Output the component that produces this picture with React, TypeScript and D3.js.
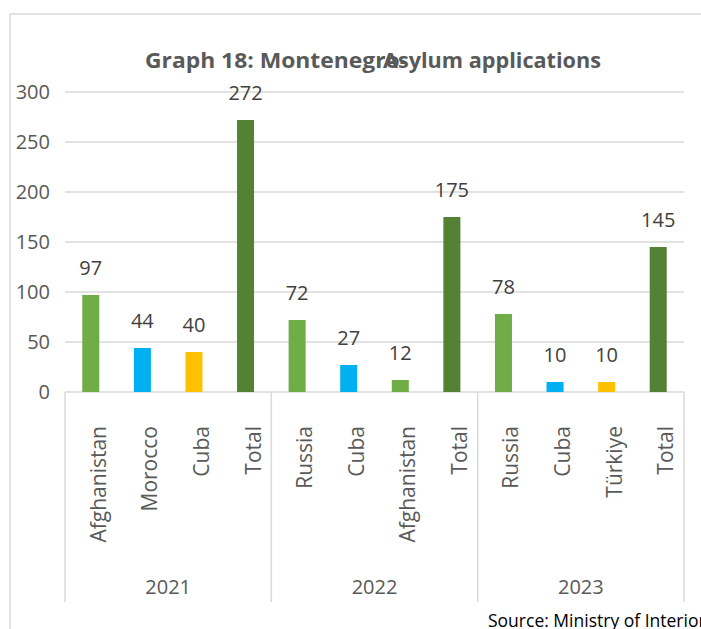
import React from "react";
import * as d3 from "d3";

const years = ["2021", "2022", "2023"];
const countries = [
  ["Afghanistan", "Morocco", "Cuba", "Total"],
  ["Russia", "Cuba", "Afghanistan", "Total"],
  ["Russia", "Cuba", "Türkiye", "Total"],
];
const values = [
  [97, 44, 40, 272],
  [72, 27, 12, 175],
  [78, 10, 10, 145],
];
const barColors = [
  ["#70AD47", "#00B0F0", "#FFC000", "#548235"],
  ["#70AD47", "#00B0F0", "#70AD47", "#548235"],
  ["#70AD47", "#00B0F0", "#FFC000", "#548235"],
];
const yTicks = [0, 50, 100, 150, 200, 250, 300];
const titleParts = ["Graph 18: Montenegro-", "Asylum applications"];
const sourceText = "Source: Ministry of Interior";

const FONT = "'Open Sans', sans-serif";

export default function App() {
  const W = 701;
  const H = 629;
  const x0 = 65;
  const x1 = 684;
  const yBase = 392;
  const yTop = 92;

  const items = years.flatMap((yr, gi) =>
    countries[gi].map((c, ci) => ({
      key: `${gi}-${ci}`,
      year: yr,
      gi,
      country: c,
      value: values[gi][ci],
      color: barColors[gi][ci],
    }))
  );

  const x = d3
    .scaleBand<string>()
    .domain(items.map((d) => d.key))
    .range([x0, x1])
    .paddingInner(0.67)
    .paddingOuter(0.335);
  const step = x.step();
  const y = d3.scaleLinear().domain([0, 300]).range([yBase, yTop]);

  const groupEdges = years.map((_, gi) => x0 + gi * step * 4);
  groupEdges.push(x1);

  const grid = "#d9d9d9";

  return (
    <svg
      width={W}
      height={H}
      style={{ position: "absolute", left: 0, top: 0, background: "#fff" }}
      fontFamily={FONT}
    >
      {/* outer chart border */}
      <line x1={10} y1={14} x2={W} y2={14} stroke={grid} strokeWidth={1.5} />
      <line x1={10} y1={14} x2={10} y2={H} stroke={grid} strokeWidth={1.5} />

      {/* title (two overlapping parts, as in the reference) */}
      <text
        x={145}
        y={68}
        fontSize={21}
        fontWeight={700}
        fill="#595959"
        textLength={262}
        lengthAdjust="spacingAndGlyphs"
      >
        {titleParts[0]}
      </text>
      <text
        x={383}
        y={68}
        fontSize={21}
        fontWeight={700}
        fill="#595959"
        textLength={218}
        lengthAdjust="spacingAndGlyphs"
      >
        {titleParts[1]}
      </text>

      {/* gridlines and y tick labels */}
      {yTicks.map((t) => (
        <g key={t}>
          <line x1={x0} x2={x1} y1={y(t)} y2={y(t)} stroke={grid} strokeWidth={1.5} />
          <text
            x={50}
            y={y(t)}
            dy="0.36em"
            textAnchor="end"
            fontSize={20}
            fill="#595959"
          >
            {t}
          </text>
        </g>
      ))}

      {/* bars */}
      {items.map((d) => (
        <rect
          key={d.key}
          x={x(d.key)}
          y={y(d.value)}
          width={x.bandwidth()}
          height={yBase - y(d.value)}
          fill={d.color}
        />
      ))}

      {/* data labels */}
      {items.map((d) => (
        <text
          key={"l" + d.key}
          x={(x(d.key) as number) + x.bandwidth() / 2}
          y={y(d.value) - 20}
          textAnchor="middle"
          fontSize={20}
          fill="#404040"
        >
          {d.value}
        </text>
      ))}

      {/* group separators */}
      {groupEdges.map((gx, i) => (
        <line key={i} x1={gx} x2={gx} y1={yBase} y2={602} stroke={grid} strokeWidth={1.5} />
      ))}

      {/* category labels */}
      {items.map((d) => {
        const cx = (x(d.key) as number) + x.bandwidth() / 2;
        return (
          <text
            key={"c" + d.key}
            transform={`translate(${cx + 15},${426}) rotate(-90)`}
            textAnchor="end"
            fontSize={21}
            fill="#595959"
          >
            {d.country}
          </text>
        );
      })}

      {/* year labels */}
      {years.map((yr, gi) => (
        <text
          key={yr}
          x={(groupEdges[gi] + groupEdges[gi + 1]) / 2}
          y={594}
          textAnchor="middle"
          fontSize={20}
          fill="#595959"
        >
          {yr}
        </text>
      ))}

      {/* source (runs past the right edge, as in the reference) */}
      <text x={488} y={627} fontSize={17.5} fill="#000">
        {sourceText}
      </text>
    </svg>
  );
}
